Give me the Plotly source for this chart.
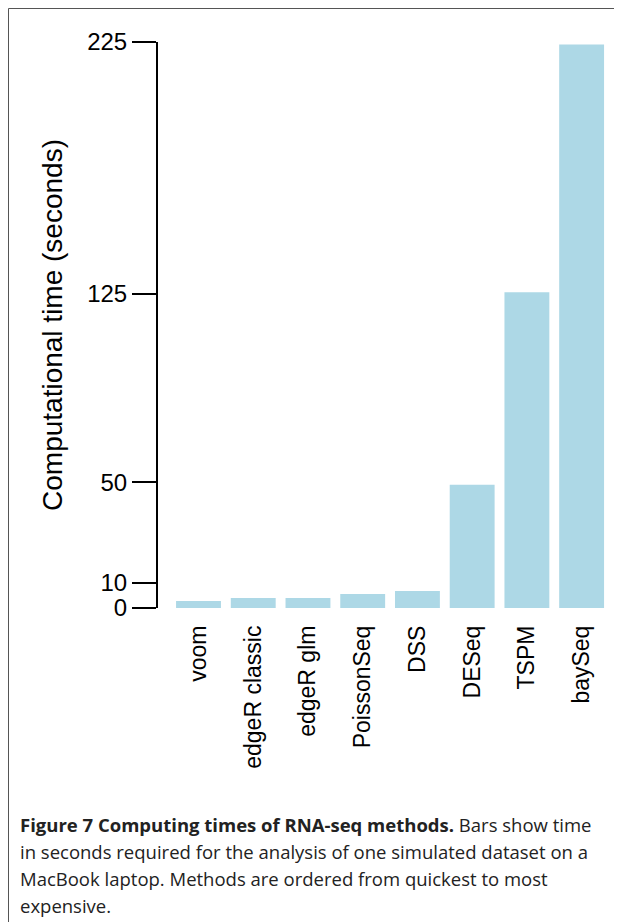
import plotly.graph_objects as go

methods = ["voom", "edgeR classic", "edgeR glm", "PoissonSeq", "DSS", "DESeq", "TSPM", "baySeq"]
times = [2.8, 4.0, 4.0, 5.6, 6.8, 49, 125.5, 224]
tick_vals = [0, 10, 50, 125, 225]
caption = [
    "<b>Figure 7 Computing times of RNA-seq methods.</b> Bars show time",
    "in seconds required for the analysis of one simulated dataset on a",
    "MacBook laptop. Methods are ordered from quickest to most",
    "expensive.",
]

W, H = 622, 922
OFF = 8  # page body margin
L, R, T, B = 158 - OFF, 609 - OFF, 42 - OFF, 608 - OFF
pw, ph = R - L, B - T
def px(x): return (x - OFF - L) / pw
def py(y): return (B - (y - OFF)) / ph

fig = go.Figure(go.Bar(x=list(range(len(methods))), y=times, marker_color="#ADD8E6",
                       marker_line_width=0, width=0.82))
fig.update_layout(
    width=W, height=H, margin=dict(l=L, r=W - R, t=T, b=H - B),
    paper_bgcolor="white", plot_bgcolor="white", showlegend=False,
    font=dict(family="Liberation Sans, Arial", color="black"),
    xaxis=dict(range=[-0.74, 7.5], tickvals=list(range(len(methods))), ticktext=methods,
               tickangle=-90, tickfont=dict(size=23), showline=False, showgrid=False,
               zeroline=False, ticks="", ticklabelstandoff=12),
    yaxis=dict(range=[0, 225], tickvals=tick_vals, tickfont=dict(size=24), showgrid=False,
               zeroline=False, showline=True, linecolor="black", linewidth=2,
               ticks="outside", ticklen=24, tickwidth=2, tickcolor="black",
               title=dict(text="Computational time (seconds)", font=dict(size=28), standoff=16)),
)
fig.add_shape(type="rect", xref="paper", yref="paper", x0=px(8.5), x1=px(640), y0=py(8.5), y1=py(960),
              line=dict(color="#555555", width=1), layer="below")
for i, line in enumerate(caption):
    fig.add_annotation(xref="paper", yref="paper", x=px(18), y=py(824 + 27 * i), xanchor="left",
                       yanchor="middle", align="left", showarrow=False,
                       font=dict(family="Open Sans", size=18.5, color="#222222"), text=line)
fig.write_html("out.html")
